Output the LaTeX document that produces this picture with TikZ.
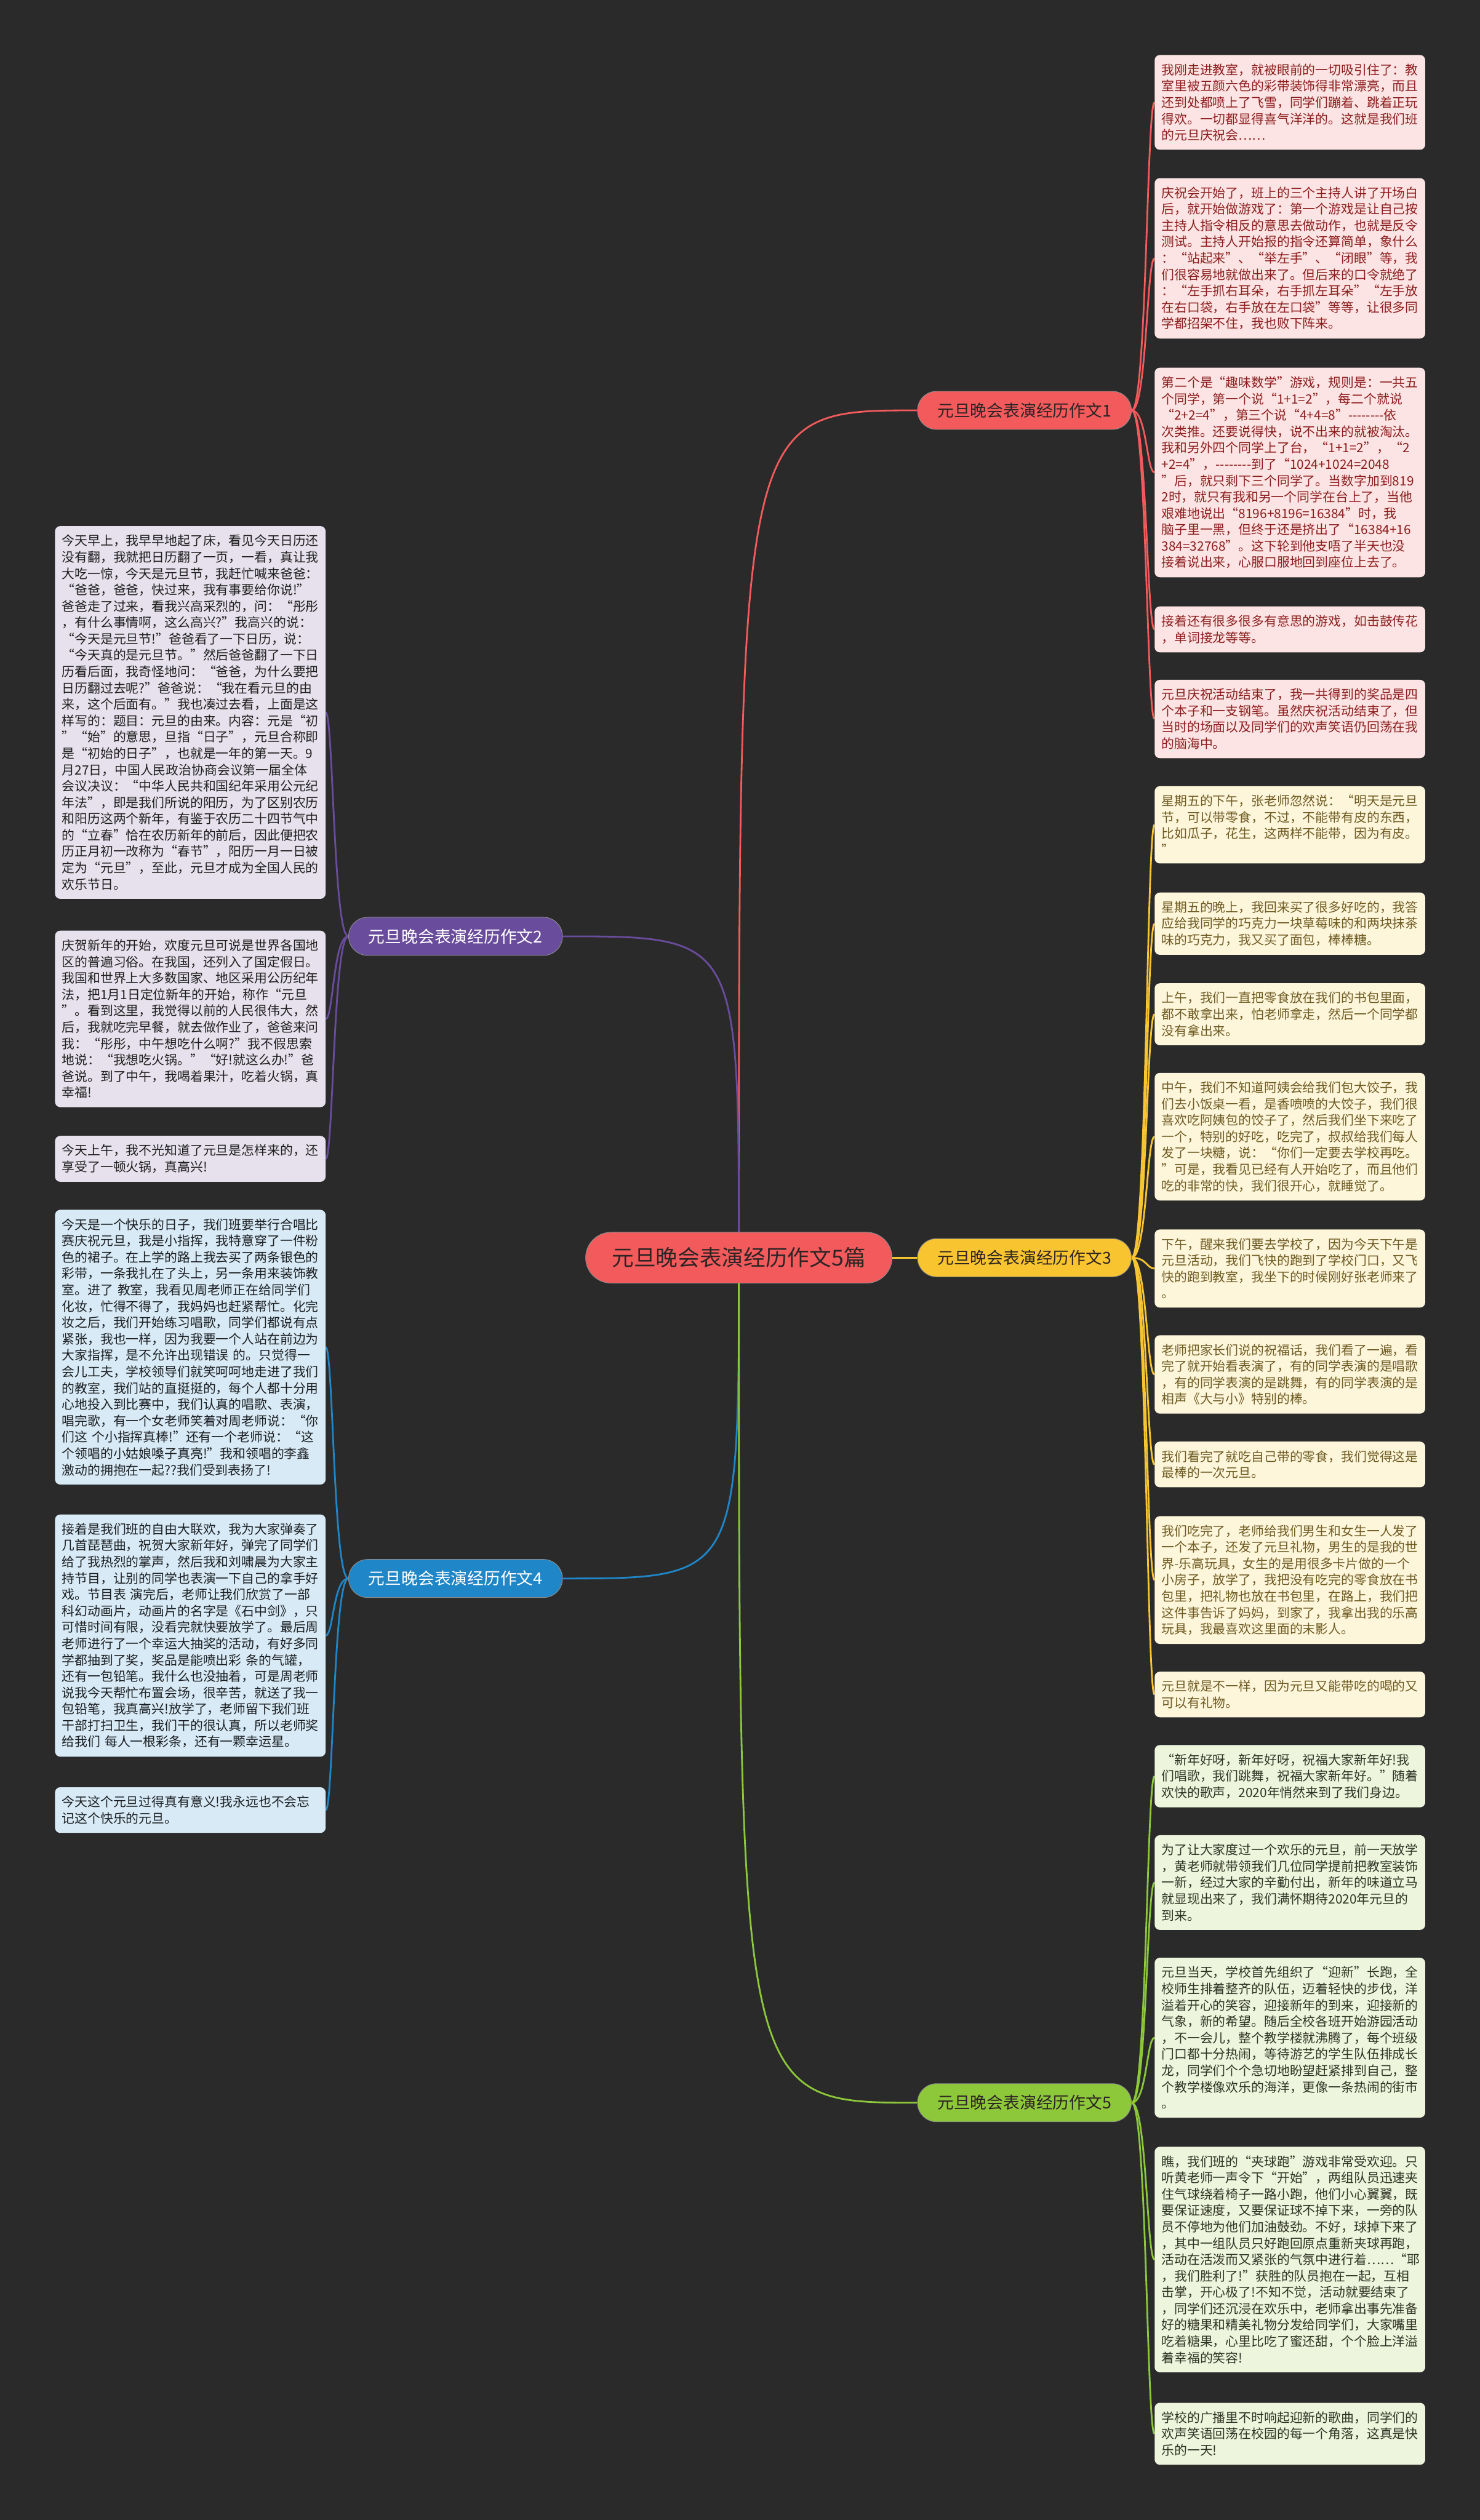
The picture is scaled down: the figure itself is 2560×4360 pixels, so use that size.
\documentclass[tikz,border=0pt]{standalone}
\usepackage{fontspec}
\setmainfont{Noto Sans CJK SC}[Ligatures=TeXOff]
\usetikzlibrary{calc}
\definecolor{bgc}{HTML}{2A2A2A}
\definecolor{cred}{HTML}{F25A5C}
\definecolor{cpur}{HTML}{6A4C9C}
\definecolor{cyel}{HTML}{F8C531}
\definecolor{cblu}{HTML}{1F86C8}
\definecolor{cgrn}{HTML}{8CC83A}
\definecolor{lred}{HTML}{FDE4E4}
\definecolor{lyel}{HTML}{FDF6DB}
\definecolor{lgrn}{HTML}{EEF5DD}
\definecolor{lpur}{HTML}{E6E1EC}
\definecolor{lblu}{HTML}{D8EAF5}
\definecolor{tred}{HTML}{8C1D1D}
\definecolor{tyel}{HTML}{6E5B22}
\definecolor{tgrn}{HTML}{2F3324}
\definecolor{tpur}{HTML}{1E1E1E}
\definecolor{tblu}{HTML}{1A1E22}
\definecolor{tdark}{HTML}{2E2424}
\newcommand{\leaffont}{\fontsize{22.2pt}{28.3pt}\selectfont}
\newcommand{\brfont}{\fontsize{28.5pt}{32pt}\selectfont}
\newcommand{\cfont}{\fontsize{38pt}{42pt}\selectfont}
\pgfdeclarelayer{bglayer}
\pgfdeclarelayer{edgelayer}
\pgfsetlayers{bglayer,edgelayer,main}
\begin{document}
\begin{tikzpicture}[x=1pt, y=-1pt,
  leaf/.style={anchor=north west, rounded corners=9pt, text width=444pt, align=left, inner xsep=12pt, inner ysep=15pt, font=\leaffont},
  lr/.style={leaf, fill=lred, text=tred},
  ly/.style={leaf, fill=lyel, text=tyel},
  lg/.style={leaf, fill=lgrn, text=tgrn},
  lp/.style={leaf, fill=lpur, text=tpur},
  lb/.style={leaf, fill=lblu, text=tblu},
  branch/.style={rounded corners=33pt, minimum width=370pt, minimum height=66pt, inner sep=0pt, font=\brfont, draw=black!45, line width=1pt},
  conn/.style={line width=3pt}]
\begin{pgfonlayer}{bglayer}
\fill[bgc] (0,0) rectangle (2560,4360);
\end{pgfonlayer}
\useasboundingbox (0,0) rectangle (2560,4360);

% center and branches
\node[rounded corners=44pt, minimum width=530pt, minimum height=88pt, inner sep=0pt, fill=cred, draw=black!45, line width=1pt, text=tdark, font=\cfont] (c) at (1278,2176) {元旦晚会表演经历作文5篇};
\node[branch, fill=cred, text=tdark] (b1) at (1772,710) {元旦晚会表演经历作文1};
\node[branch, fill=cpur, text=white] (b2) at (788,1620) {元旦晚会表演经历作文2};
\node[branch, fill=cyel, text=tdark] (b3) at (1772,2176) {元旦晚会表演经历作文3};
\node[branch, fill=cblu, text=white] (b4) at (788,2731) {元旦晚会表演经历作文4};
\node[branch, fill=cgrn, text=tdark] (b5) at (1772,3638) {元旦晚会表演经历作文5};

% branch 1
\node[lr] (r1) at (1997,95) {我刚走进教室，就被眼前的一切吸引住了：教\\室里被五颜六色的彩带装饰得非常漂亮，而且\\还到处都喷上了飞雪，同学们蹦着、跳着正玩\\得欢。一切都显得喜气洋洋的。这就是我们班\\的元旦庆祝会……};
\node[lr] (r2) at (1997,308) {庆祝会开始了，班上的三个主持人讲了开场白\\后，就开始做游戏了：第一个游戏是让自己按\\主持人指令相反的意思去做动作，也就是反令\\测试。主持人开始报的指令还算简单，象什么\\：“站起来”、“举左手”、“闭眼”等，我\\们很容易地就做出来了。但后来的口令就绝了\\：“左手抓右耳朵，右手抓左耳朵”“左手放\\在右口袋，右手放在左口袋”等等，让很多同\\学都招架不住，我也败下阵来。};
\node[lr] (r3) at (1997,636) {第二个是“趣味数学”游戏，规则是：一共五\\个同学，第一个说“1+1=2”，每二个就说\\“2+2=4”，第三个说“4+4=8”--------依\\次类推。还要说得快，说不出来的就被淘汰。\\我和另外四个同学上了台，“1+1=2”，“2\\+2=4”，--------到了“1024+1024=2048\\”后，就只剩下三个同学了。当数字加到819\\2时，就只有我和另一个同学在台上了，当他\\艰难地说出“8196+8196=16384”时，我\\脑子里一黑，但终于还是挤出了“16384+16\\384=32768”。这下轮到他支唔了半天也没\\接着说出来，心服口服地回到座位上去了。};
\node[lr] (r4) at (1997,1049) {接着还有很多很多有意思的游戏，如击鼓传花\\，单词接龙等等。};
\node[lr] (r5) at (1997,1176) {元旦庆祝活动结束了，我一共得到的奖品是四\\个本子和一支钢笔。虽然庆祝活动结束了，但\\当时的场面以及同学们的欢声笑语仍回荡在我\\的脑海中。};

% branch 3
\node[ly] (y1) at (1997,1360) {星期五的下午，张老师忽然说：“明天是元旦\\节，可以带零食，不过，不能带有皮的东西，\\比如瓜子，花生，这两样不能带，因为有皮。\\”};
\node[ly] (y2) at (1997,1544) {星期五的晚上，我回来买了很多好吃的，我答\\应给我同学的巧克力一块草莓味的和两块抹茶\\味的巧克力，我又买了面包，棒棒糖。};
\node[ly] (y3) at (1997,1701) {上午，我们一直把零食放在我们的书包里面，\\都不敢拿出来，怕老师拿走，然后一个同学都\\没有拿出来。};
\node[ly] (y4) at (1997,1856) {中午，我们不知道阿姨会给我们包大饺子，我\\们去小饭桌一看，是香喷喷的大饺子，我们很\\喜欢吃阿姨包的饺子了，然后我们坐下来吃了\\一个，特别的好吃，吃完了，叔叔给我们每人\\发了一块糖，说：“你们一定要去学校再吃。\\”可是，我看见已经有人开始吃了，而且他们\\吃的非常的快，我们很开心，就睡觉了。};
\node[ly] (y5) at (1997,2127) {下午，醒来我们要去学校了，因为今天下午是\\元旦活动，我们飞快的跑到了学校门口，又飞\\快的跑到教室，我坐下的时候刚好张老师来了\\。};
\node[ly] (y6) at (1997,2310) {老师把家长们说的祝福话，我们看了一遍，看\\完了就开始看表演了，有的同学表演的是唱歌\\，有的同学表演的是跳舞，有的同学表演的是\\相声《大与小》特别的棒。};
\node[ly] (y7) at (1997,2494) {我们看完了就吃自己带的零食，我们觉得这是\\最棒的一次元旦。};
\node[ly] (y8) at (1997,2623) {我们吃完了，老师给我们男生和女生一人发了\\一个本子，还发了元旦礼物，男生的是我的世\\界-乐高玩具，女生的是用很多卡片做的一个\\小房子，放学了，我把没有吃完的零食放在书\\包里，把礼物也放在书包里，在路上，我们把\\这件事告诉了妈妈，到家了，我拿出我的乐高\\玩具，我最喜欢这里面的末影人。};
\node[ly] (y9) at (1997,2892) {元旦就是不一样，因为元旦又能带吃的喝的又\\可以有礼物。};

% branch 5
\node[lg] (g1) at (1997,3019) {“新年好呀，新年好呀，祝福大家新年好!我\\们唱歌，我们跳舞，祝福大家新年好。”随着\\欢快的歌声，2020年悄然来到了我们身边。};
\node[lg] (g2) at (1997,3175) {为了让大家度过一个欢乐的元旦，前一天放学\\，黄老师就带领我们几位同学提前把教室装饰\\一新，经过大家的辛勤付出，新年的味道立马\\就显现出来了，我们满怀期待2020年元旦的\\到来。};
\node[lg] (g3) at (1997,3387) {元旦当天，学校首先组织了“迎新”长跑，全\\校师生排着整齐的队伍，迈着轻快的步伐，洋\\溢着开心的笑容，迎接新年的到来，迎接新的\\气象，新的希望。随后全校各班开始游园活动\\，不一会儿，整个教学楼就沸腾了，每个班级\\门口都十分热闹，等待游艺的学生队伍排成长\\龙，同学们个个急切地盼望赶紧排到自己，整\\个教学楼像欢乐的海洋，更像一条热闹的街市\\。};
\node[lg] (g4) at (1997,3714) {瞧，我们班的“夹球跑”游戏非常受欢迎。只\\听黄老师一声令下“开始”，两组队员迅速夹\\住气球绕着椅子一路小跑，他们小心翼翼，既\\要保证速度，又要保证球不掉下来，一旁的队\\员不停地为他们加油鼓劲。不好，球掉下来了\\，其中一组队员只好跑回原点重新夹球再跑，\\活动在活泼而又紧张的气氛中进行着……“耶\\，我们胜利了!”获胜的队员抱在一起，互相\\击掌，开心极了!不知不觉，活动就要结束了\\，同学们还沉浸在欢乐中，老师拿出事先准备\\好的糖果和精美礼物分发给同学们，大家嘴里\\吃着糖果，心里比吃了蜜还甜，个个脸上洋溢\\着幸福的笑容!};
\node[lg] (g5) at (1997,4157) {学校的广播里不时响起迎新的歌曲，同学们的\\欢声笑语回荡在校园的每一个角落，这真是快\\乐的一天!};

% branch 2
\node[lp] (p1) at (95,910) {今天早上，我早早地起了床，看见今天日历还\\没有翻，我就把日历翻了一页，一看，真让我\\大吃一惊，今天是元旦节，我赶忙喊来爸爸：\\“爸爸，爸爸，快过来，我有事要给你说!”\\爸爸走了过来，看我兴高采烈的，问：“彤彤\\，有什么事情啊，这么高兴?”我高兴的说：\\“今天是元旦节!”爸爸看了一下日历，说：\\“今天真的是元旦节。”然后爸爸翻了一下日\\历看后面，我奇怪地问：“爸爸，为什么要把\\日历翻过去呢?”爸爸说：“我在看元旦的由\\来，这个后面有。”我也凑过去看，上面是这\\样写的：题目：元旦的由来。内容：元是“初\\”“始”的意思，旦指“日子”，元旦合称即\\是“初始的日子”，也就是一年的第一天。9\\月27日，中国人民政治协商会议第一届全体\\会议决议：“中华人民共和国纪年采用公元纪\\年法”，即是我们所说的阳历，为了区别农历\\和阳历这两个新年，有鉴于农历二十四节气中\\的“立春”恰在农历新年的前后，因此便把农\\历正月初一改称为“春节”，阳历一月一日被\\定为“元旦”，至此，元旦才成为全国人民的\\欢乐节日。};
\node[lp] (p2) at (95,1610) {庆贺新年的开始，欢度元旦可说是世界各国地\\区的普遍习俗。在我国，还列入了国定假日。\\我国和世界上大多数国家、地区采用公历纪年\\法，把1月1日定位新年的开始，称作“元旦\\”。看到这里，我觉得以前的人民很伟大，然\\后，我就吃完早餐，就去做作业了，爸爸来问\\我：“彤彤，中午想吃什么啊?”我不假思索\\地说：“我想吃火锅。”“好!就这么办!”爸\\爸说。到了中午，我喝着果汁，吃着火锅，真\\幸福!};
\node[lp] (p3) at (95,1965) {今天上午，我不光知道了元旦是怎样来的，还\\享受了一顿火锅，真高兴!};

% branch 4
\node[lb] (q1) at (95,2093) {今天是一个快乐的日子，我们班要举行合唱比\\赛庆祝元旦，我是小指挥，我特意穿了一件粉\\色的裙子。在上学的路上我去买了两条银色的\\彩带，一条我扎在了头上，另一条用来装饰教\\室。进了 教室，我看见周老师正在给同学们\\化妆，忙得不得了，我妈妈也赶紧帮忙。化完\\妆之后，我们开始练习唱歌，同学们都说有点\\紧张，我也一样，因为我要一个人站在前边为\\大家指挥，是不允许出现错误 的。只觉得一\\会儿工夫，学校领导们就笑呵呵地走进了我们\\的教室，我们站的直挺挺的，每个人都十分用\\心地投入到比赛中，我们认真的唱歌、表演，\\唱完歌，有一个女老师笑着对周老师说：“你\\们这 个小指挥真棒!”还有一个老师说：“这\\个领唱的小姑娘嗓子真亮!”我和领唱的李鑫\\激动的拥抱在一起??我们受到表扬了!};
\node[lb] (q2) at (95,2620) {接着是我们班的自由大联欢，我为大家弹奏了\\几首琵琶曲，祝贺大家新年好，弹完了同学们\\给了我热烈的掌声，然后我和刘啸晨为大家主\\持节目，让别的同学也表演一下自己的拿手好\\戏。节目表 演完后，老师让我们欣赏了一部\\科幻动画片，动画片的名字是《石中剑》，只\\可惜时间有限，没看完就快要放学了。最后周\\老师进行了一个幸运大抽奖的活动，有好多同\\学都抽到了奖，奖品是能喷出彩 条的气罐，\\还有一包铅笔。我什么也没抽着，可是周老师\\说我今天帮忙布置会场，很辛苦，就送了我一\\包铅笔，我真高兴!放学了，老师留下我们班\\干部打扫卫生，我们干的很认真，所以老师奖\\给我们 每人一根彩条，还有一颗幸运星。};
\node[lb] (q3) at (95,3092) {今天这个元旦过得真有意义!我永远也不会忘\\记这个快乐的元旦。};

\begin{pgfonlayer}{edgelayer}
\draw[conn, cred] (c.center) .. controls (c.center |- b1.west) .. (b1.west);
\draw[conn, cpur] (c.center) .. controls (c.center |- b2.east) .. (b2.east);
\draw[conn, cyel] (c.center) -- (b3.west);
\draw[conn, cblu] (c.center) .. controls (c.center |- b4.east) .. (b4.east);
\draw[conn, cgrn] (c.center) .. controls (c.center |- b5.west) .. (b5.west);
\foreach \n in {r1,r2,r3,r4,r5}
  \draw[conn, cred] (b1.east) .. controls ($(b1.east)+(26,0)$) and ($(b1.east |- \n.west)+(26,0)$) .. (\n.west);
\foreach \n in {y1,y2,y3,y4,y5,y6,y7,y8,y9}
  \draw[conn, cyel] (b3.east) .. controls ($(b3.east)+(26,0)$) and ($(b3.east |- \n.west)+(26,0)$) .. (\n.west);
\foreach \n in {g1,g2,g3,g4,g5}
  \draw[conn, cgrn] (b5.east) .. controls ($(b5.east)+(26,0)$) and ($(b5.east |- \n.west)+(26,0)$) .. (\n.west);
\foreach \n in {p1,p2,p3}
  \draw[conn, cpur] (b2.west) .. controls ($(b2.west)+(-26,0)$) and ($(b2.west |- \n.east)+(-26,0)$) .. (\n.east);
\foreach \n in {q1,q2,q3}
  \draw[conn, cblu] (b4.west) .. controls ($(b4.west)+(-26,0)$) and ($(b4.west |- \n.east)+(-26,0)$) .. (\n.east);
\end{pgfonlayer}
\end{tikzpicture}
\end{document}
